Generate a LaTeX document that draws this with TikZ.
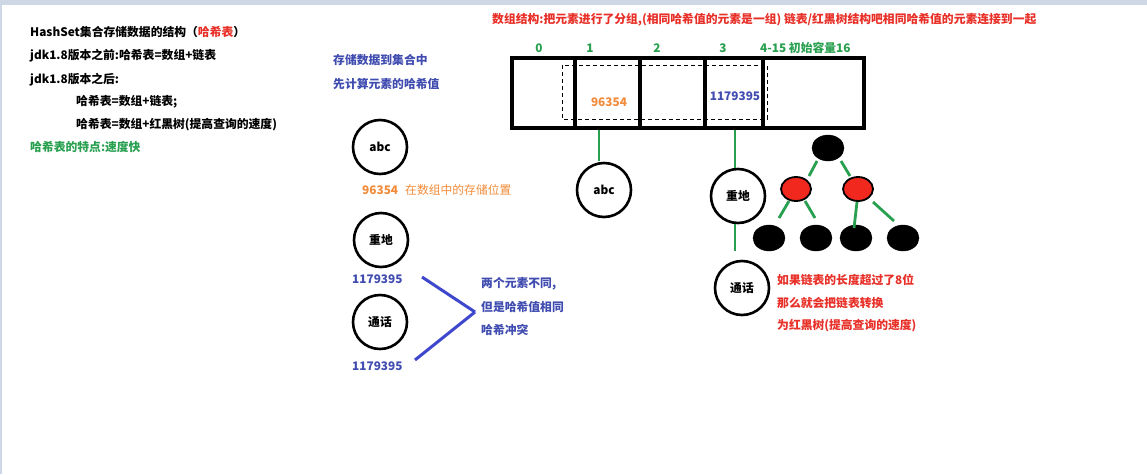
\documentclass[tikz,border=0pt]{standalone}
\usepackage{fontspec}
\usetikzlibrary{shapes.geometric}
\setmainfont{Noto Sans CJK SC}
\definecolor{tred}{RGB}{232,48,40}
\definecolor{tgreen}{RGB}{40,160,80}
\definecolor{tblue}{RGB}{64,76,176}
\definecolor{torange}{RGB}{242,140,58}
\definecolor{lblue}{RGB}{63,72,204}
\definecolor{frame}{RGB}{205,215,230}
\definecolor{nodered}{RGB}{240,40,30}
\tikzset{
  txt/.style={anchor=west,inner sep=0pt,font=\fontsize{11.8}{13}\selectfont\bfseries},
  ctxt/.style={anchor=center,inner sep=0pt,font=\fontsize{11.8}{13}\selectfont\bfseries},
  elem/.style={circle,draw=black,line width=2.6pt,minimum size=54pt,inner sep=0pt,font=\fontsize{11.8}{13}\selectfont\bfseries},
  blk/.style={ellipse,fill=black,draw=black,minimum width=32pt,minimum height=26pt,inner sep=0pt},
  rdn/.style={ellipse,fill=nodered,draw=black,line width=1.8pt,minimum width=30pt,minimum height=24pt,inner sep=0pt},
  gline/.style={draw=tgreen,line width=2.8pt},
  bline/.style={draw=lblue,line width=3pt},
  thick3/.style={line width=3.4pt},
  dsh/.style={line width=1pt,dash pattern=on 4pt off 3pt}
}
\begin{document}
\begin{tikzpicture}[x=1pt,y=-1pt]
\useasboundingbox (0,0) rectangle (1147,474);
\fill[white] (0,0) rectangle (1147,474);
\fill[frame] (0,0) rectangle (1147,5);
\fill[frame] (0,0) rectangle (2,474);

% left text
\node[txt] (t1) at (30,32) {HashSet集合存储数据的结构（\textcolor{tred}{哈希表}）};
\node[txt] (t2) at (30,56) {jdk1.8版本之前:哈希表=数组+链表};
\node[txt] (t3) at (30,80) {jdk1.8版本之后:};
\node[txt] (t4) at (76,102) {哈希表=数组+链表;};
\node[txt] (t5) at (76,125) {哈希表=数组+红黑树(提高查询的速度)};
\node[txt,text=tgreen] (t6) at (30,147) {哈希表的特点:速度快};

% blue explanation
\node[txt,text=tblue] (b1) at (333,60) {存储数据到集合中};
\node[txt,text=tblue] (b2) at (333,84) {先计算元素的哈希值};

% top red
\node[txt,text=tred] (top) at (492,20) {数组结构:把元素进行了分组,(相同哈希值的元素是一组) 链表/红黑树结构吧相同哈希值的元素连接到一起};

% indices
\node[ctxt,text=tgreen] (i0) at (539,48) {0};
\node[ctxt,text=tgreen] (i1) at (590,48) {1};
\node[ctxt,text=tgreen] (i2) at (657,48) {2};
\node[ctxt,text=tgreen] (i3) at (723,48) {3};
\node[txt,text=tgreen] (i4) at (760,48) {4-15 初始容量16};

% array
\draw[dsh] (562,65) rectangle (767,119);
\draw[thick3] (512,58) rectangle (864,128);
\draw[thick3] (575,58) -- (575,128);
\draw[thick3] (640,58) -- (640,128);
\draw[thick3] (705,58) -- (705,128);
\draw[thick3] (763,58) -- (763,128);
\node[ctxt,text=torange,fill=white,inner sep=1pt] (h1) at (609,102) {96354};
\node[ctxt,text=tblue,fill=white,inner sep=1pt] (h3) at (735,96) {1179395};
\coordinate (s1) at (599,130);
\coordinate (s3) at (735,130);

% bucket chains
\node[elem] (abc2) at (604,190) {abc};
\node[elem] (zd2) at (738,196) {重地};
\node[elem] (th2) at (742,288) {通话};
\draw[gline] (s1) -- (599,161);
\draw[gline] (s3) -- (735,168);
\draw[gline] (735,224) -- (735,251);

% red-black tree
\node[blk] (root) at (828,148) {};
\node[rdn] (rl) at (796,189) {};
\node[rdn] (rr) at (858,189) {};
\node[blk] (l1) at (769,238) {};
\node[blk] (l2) at (816,238) {};
\node[blk] (l3) at (856,238) {};
\node[blk] (l4) at (903,238) {};
\draw[gline] (817,161) -- (809,176);
\draw[gline] (841,161) -- (850,176);
\draw[gline] (789,201) -- (779,218);
\draw[gline] (805,201) -- (815,218);
\draw[gline] (857,202) -- (854,228);
\draw[gline] (873,202) -- (894,221);

% red note
\node[txt,text=tred] (r1) at (777,280) {如果链表的长度超过了8位};
\node[txt,text=tred] (r2) at (777,303) {那么就会把链表转换};
\node[txt,text=tred] (r3) at (777,326) {为红黑树(提高查询的速度)};

% left elements
\node[elem] (abc) at (380,147) {abc};
\node[txt,text=torange] (o1) at (362,190) {96354};
\node[txt,text=torange,font=\fontsize{11.8}{13}\selectfont] (o2) at (405,190) {在数组中的存储位置};
\node[elem] (zd) at (381,240) {重地};
\node[txt,text=tblue] (n1) at (352,279) {1179395};
\node[elem] (th) at (380,322) {通话};
\node[txt,text=tblue] (n2) at (352,366) {1179395};

\coordinate (c1) at (422,277);
\coordinate (c2) at (415,360);
\coordinate (cm) at (475,312);
\draw[bline] (c1) -- (cm);
\draw[bline] (c2) -- (cm);

\node[txt,text=tblue] (q1) at (481,284) {两个元素不同,};
\node[txt,text=tblue] (q2) at (481,307) {但是哈希值相同};
\node[txt,text=tblue] (q3) at (481,330) {哈希冲突};
\end{tikzpicture}
\end{document}
